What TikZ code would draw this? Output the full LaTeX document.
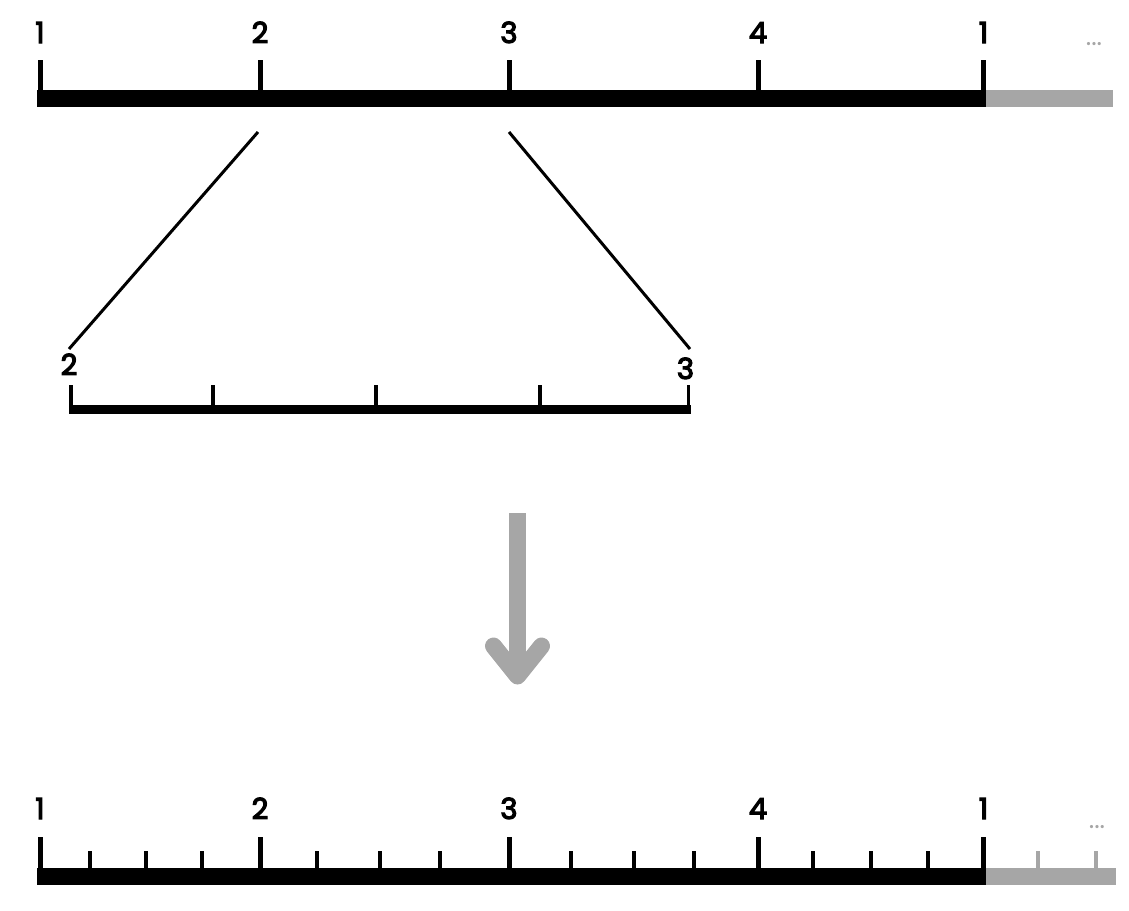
\documentclass[tikz,border=0pt]{standalone}
\usepackage{fontspec}
\setmainfont{Poppins}
\newfontfamily\numfont{Poppins}[FakeBold=4]
\usetikzlibrary{calc}
\definecolor{ghost}{HTML}{A6A6A6}
\tikzset{%
	num/.style={font=\numfont\fontsize{29}{29}\selectfont,inner sep=1pt,anchor=base},
	more/.style={font=\fontsize{26}{26}\selectfont,text=ghost,inner sep=0pt,anchor=base},
	bar/.style={line width=#1,line cap=butt},
	major/.style={line width=5pt},
	minor/.style={line width=3.5pt}
}

\begin{document}
\begin{tikzpicture}[x=1pt,y=-1pt]
				\useasboundingbox (0,0) rectangle (1129,910);
				% top ruler
				\draw [bar=17pt] (37,98.5) -- (986,98.5);
				\draw [bar=17pt, ghost] (986,98.5) -- (1113,98.5);
				\foreach \x/\t [count=\i] in {40/1, 260/2, 509/3, 758/4, 983.5/1} {
					\node [num] (t\i) at (\x,43) {\t};
					\draw [major] (\x,60) -- (\x,98.5);
				}
				\node [more] (tmore) at (1094,45) {...};
				% zoomed part
				\draw [bar=9.5pt] (69,409.5) -- (691,409.5);
				\foreach \x in {71, 213, 376, 540, 688.5}
					\draw [minor] (\x,385) -- (\x,409.5);
				\node [num] (m2) at (69,375) {2};
				\node [num] (m3) at (685.5,379) {3};
				\coordinate (z1) at (258,132);
				\coordinate (z2) at (509,132);
				\coordinate (z3) at (69,349);
				\coordinate (z4) at (690,349);
				\draw [line width=3pt] (z1) -- (z3);
				\draw [line width=3pt] (z2) -- (z4);
				% arrow
				\draw [ghost, line width=17pt] (517.5,513) -- (517.5,676);
				\draw [ghost, line width=17pt, line cap=round, line join=round]
					(493.5,646) -- (517.5,676) -- (541.5,646);
				% bottom ruler
				\draw [bar=17pt] (37,876.5) -- (986,876.5);
				\draw [bar=17pt, ghost] (986,876.5) -- (1116,876.5);
				\foreach \x/\t [count=\i] in {40/1, 260/2, 509/3, 758/4, 983.5/1} {
					\node [num] (b\i) at (\x,819) {\t};
					\draw [major] (\x,837) -- (\x,876.5);
				}
				\foreach \x in {90, 146, 202, 317, 380, 440, 571, 634, 694, 813, 871, 928}
					\draw [minor] (\x,851) -- (\x,876.5);
				\foreach \x in {1038, 1096}
					\draw [minor, ghost] (\x,851) -- (\x,876.5);
				\node [more] (bmore) at (1097,828) {...};
			\end{tikzpicture}
\end{document}
